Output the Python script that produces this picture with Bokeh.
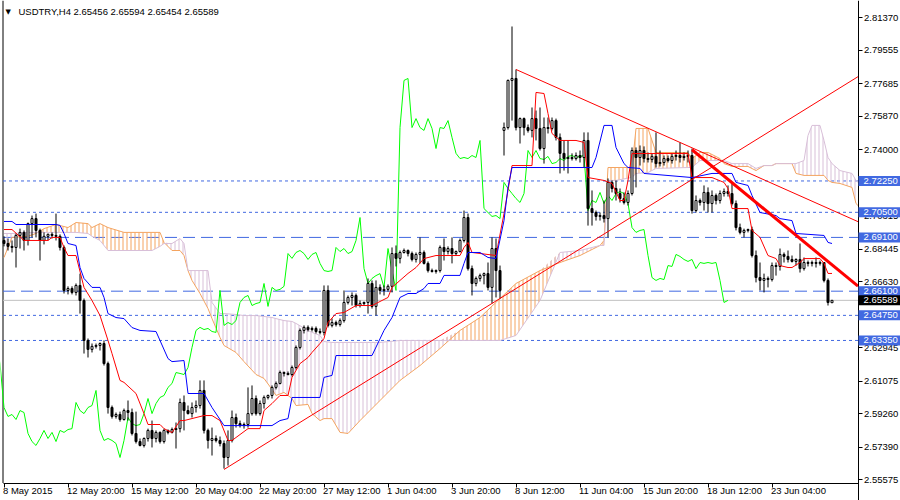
import numpy as np
from bokeh.plotting import figure
from bokeh.models import Range1d, FixedTicker, Label, PrintfTickFormatter
from bokeh.core.properties import value
from bokeh.embed import file_html
from bokeh.resources import INLINE

symbol = "USDTRY,H4"
header_values = "2.65456 2.65594 2.65454 2.65589"

O = [2.6893,2.6876,2.6860,2.6854,2.6921,2.6938,2.6893,2.6987,2.7015,2.6949,
     2.6893,2.6916,2.6927,2.6921,2.6916,2.6854,2.6614,2.6625,2.6603,2.6642,
     2.6558,2.6335,2.6285,2.6302,2.6307,2.6318,2.6206,2.5961,2.5911,2.5922,
     2.5894,2.5944,2.5933,2.5816,2.5771,2.5749,2.5788,2.5833,2.5788,2.5822,
     2.5771,2.5833,2.5822,2.5838,2.5843,2.5989,2.5944,2.5927,2.5961,2.5972,
     2.6056,2.5833,2.5777,2.5788,2.5777,2.5760,2.5682,2.5777,2.5905,2.5871,
     2.5860,2.5866,2.5927,2.6011,2.5927,2.5983,2.6017,2.6028,2.6073,2.6095,
     2.6156,2.6151,2.6145,2.6184,2.6296,2.6391,2.6408,2.6396,2.6402,2.6385,
     2.6380,2.6614,2.6419,2.6435,2.6424,2.6446,2.6547,2.6575,2.6586,2.6530,
     2.6541,2.6547,2.6653,2.6525,2.6631,2.6614,2.6620,2.6637,2.6820,2.6793,
     2.6826,2.6837,2.6820,2.6787,2.6815,2.6826,2.6765,2.6725,2.6720,2.6725,
     2.6854,2.6831,2.6848,2.6820,2.6831,2.6893,2.7021,2.6736,2.6653,2.6681,
     2.6697,2.6708,2.6631,2.6848,2.6725,2.7507,2.7523,2.7786,2.7797,2.7523,
     2.7573,2.7523,2.7507,2.7573,2.7518,2.7406,2.7523,2.7518,2.7562,2.7468,
     2.7379,2.7350,2.7356,2.7350,2.7367,2.7356,2.7451,2.7071,2.7049,2.7027,
     2.7032,2.7015,2.7217,2.7183,2.7155,2.7127,2.7105,2.7155,2.7395,2.7356,
     2.7395,2.7350,2.7345,2.7362,2.7322,2.7328,2.7350,2.7339,2.7362,2.7367,
     2.7356,2.7362,2.7367,2.7060,2.7116,2.7105,2.7161,2.7099,2.7144,2.7116,
     2.7155,2.7166,2.7155,2.7099,2.6965,2.6938,2.6949,2.6954,2.6809,2.6686,
     2.6670,2.6681,2.6675,2.6753,2.6748,2.6815,2.6804,2.6787,2.6776,2.6787,
     2.6736,2.6770,2.6765,2.6770,2.6765,2.6770,2.6670,2.65456]
H = [2.6916,2.6904,2.6893,2.6932,2.6959,2.6949,2.6993,2.7032,2.7043,2.6959,
     2.6938,2.6932,2.6938,2.7043,2.6927,2.6865,2.6637,2.6637,2.6653,2.6708,
     2.6569,2.6346,2.6318,2.6318,2.6324,2.6335,2.6217,2.5972,2.5933,2.5938,
     2.5955,2.6000,2.5955,2.5938,2.5788,2.5794,2.5843,2.5888,2.5833,2.5827,
     2.5843,2.5838,2.5849,2.5877,2.6011,2.6028,2.5972,2.5989,2.6000,2.6112,
     2.6112,2.5843,2.5849,2.5805,2.5799,2.5777,2.5833,2.5944,2.5927,2.5888,
     2.5877,2.6073,2.6084,2.6028,2.6000,2.6028,2.6033,2.6084,2.6106,2.6167,
     2.6162,2.6162,2.6195,2.6307,2.6402,2.6419,2.6419,2.6413,2.6413,2.6402,
     2.6642,2.6642,2.6458,2.6446,2.6458,2.6614,2.6586,2.6603,2.6597,2.6558,
     2.6552,2.6681,2.6670,2.6670,2.6648,2.6642,2.6648,2.6854,2.6865,2.6837,
     2.6848,2.6843,2.6831,2.6826,2.6910,2.6837,2.6776,2.6736,2.6731,2.6865,
     2.6904,2.6860,2.6910,2.6837,2.6904,2.7060,2.7043,2.6753,2.6692,2.6708,
     2.6714,2.6770,2.6910,2.6904,2.6753,2.7551,2.7791,2.8087,2.7847,2.7579,
     2.7579,2.7540,2.7635,2.7618,2.7635,2.7579,2.7579,2.7579,2.7573,2.7490,
     2.7451,2.7451,2.7379,2.7384,2.7395,2.7496,2.7496,2.7172,2.7060,2.7049,
     2.7116,2.7239,2.7228,2.7228,2.7183,2.7161,2.7172,2.7412,2.7412,2.7423,
     2.7418,2.7384,2.7379,2.7496,2.7395,2.7367,2.7367,2.7379,2.7395,2.7440,
     2.7384,2.7395,2.7406,2.7144,2.7127,2.7200,2.7189,2.7172,2.7155,2.7172,
     2.7183,2.7200,2.7217,2.7116,2.6987,2.6959,2.6959,2.6970,2.6837,2.6770,
     2.6708,2.6692,2.6770,2.6770,2.6848,2.6826,2.6837,2.6809,2.6793,2.6876,
     2.6798,2.6781,2.6781,2.6798,2.6781,2.6770,2.6681,2.65594]
L = [2.6860,2.6837,2.6826,2.6742,2.6848,2.6837,2.6865,2.6910,2.6910,2.6781,
     2.6871,2.6893,2.6904,2.6893,2.6837,2.6597,2.6592,2.6592,2.6586,2.6485,
     2.6262,2.6240,2.6268,2.6290,2.6279,2.6195,2.5927,2.5899,2.5899,2.5882,
     2.5888,2.5888,2.5805,2.5760,2.5744,2.5738,2.5771,2.5738,2.5766,2.5760,
     2.5760,2.5811,2.5816,2.5732,2.5822,2.5833,2.5922,2.5905,2.5933,2.5955,
     2.5816,2.5732,2.5693,2.5766,2.5744,2.5620,2.5637,2.5766,2.5849,2.5849,
     2.5843,2.5849,2.5916,2.5916,2.5916,2.5955,2.6006,2.6011,2.6062,2.6090,
     2.6134,2.6140,2.6134,2.6173,2.6285,2.6374,2.6385,2.6385,2.6374,2.6369,
     2.6363,2.6408,2.6408,2.6413,2.6413,2.6435,2.6536,2.6530,2.6519,2.6519,
     2.6530,2.6485,2.6513,2.6474,2.6592,2.6586,2.6608,2.6603,2.6748,2.6765,
     2.6820,2.6804,2.6776,2.6770,2.6765,2.6759,2.6714,2.6714,2.6708,2.6714,
     2.6781,2.6815,2.6765,2.6809,2.6826,2.6882,2.6725,2.6586,2.6637,2.6664,
     2.6648,2.6614,2.6541,2.6575,2.6569,2.7367,2.7512,2.7562,2.7507,2.7434,
     2.7479,2.7495,2.7468,2.7451,2.7395,2.7322,2.7490,2.7507,2.7451,2.7267,
     2.7283,2.7267,2.7339,2.7339,2.7328,2.7300,2.6976,2.6976,2.7004,2.7004,
     2.6993,2.6910,2.7161,2.7116,2.7105,2.7094,2.7088,2.7144,2.7189,2.7311,
     2.7328,2.7328,2.7328,2.7300,2.7306,2.7311,2.7328,2.7322,2.7339,2.7328,
     2.7339,2.7328,2.7043,2.7049,2.7088,2.7060,2.7049,2.7049,2.7094,2.7099,
     2.7138,2.7138,2.7088,2.6949,2.6927,2.6910,2.6938,2.6798,2.6659,2.6614,
     2.6603,2.6631,2.6664,2.6697,2.6725,2.6770,2.6770,2.6770,2.6753,2.6714,
     2.6725,2.6748,2.6748,2.6742,2.6753,2.6659,2.6530,2.65454]
C = [2.6876,2.6860,2.6854,2.6921,2.6938,2.6893,2.6987,2.7015,2.6949,2.6893,
     2.6916,2.6927,2.6921,2.6916,2.6854,2.6614,2.6625,2.6603,2.6642,2.6558,
     2.6335,2.6285,2.6302,2.6307,2.6318,2.6206,2.5961,2.5911,2.5922,2.5894,
     2.5944,2.5933,2.5816,2.5771,2.5749,2.5788,2.5833,2.5788,2.5822,2.5771,
     2.5833,2.5822,2.5838,2.5843,2.5989,2.5944,2.5927,2.5961,2.5972,2.6056,
     2.5833,2.5777,2.5788,2.5777,2.5760,2.5682,2.5777,2.5905,2.5871,2.5860,
     2.5866,2.5927,2.6011,2.5927,2.5983,2.6017,2.6028,2.6073,2.6095,2.6156,
     2.6151,2.6145,2.6184,2.6296,2.6391,2.6408,2.6396,2.6402,2.6385,2.6380,
     2.6614,2.6419,2.6435,2.6424,2.6446,2.6547,2.6575,2.6586,2.6530,2.6541,
     2.6547,2.6653,2.6525,2.6631,2.6614,2.6620,2.6637,2.6820,2.6793,2.6826,
     2.6837,2.6820,2.6787,2.6815,2.6826,2.6765,2.6725,2.6720,2.6725,2.6854,
     2.6831,2.6848,2.6820,2.6831,2.6893,2.7021,2.6736,2.6653,2.6681,2.6697,
     2.6708,2.6631,2.6848,2.6725,2.6614,2.7523,2.7786,2.7797,2.7523,2.7573,
     2.7523,2.7507,2.7573,2.7518,2.7406,2.7523,2.7518,2.7562,2.7468,2.7379,
     2.7350,2.7356,2.7350,2.7367,2.7356,2.7451,2.7071,2.7049,2.7027,2.7032,
     2.7015,2.7217,2.7183,2.7155,2.7127,2.7105,2.7155,2.7395,2.7356,2.7395,
     2.7350,2.7345,2.7362,2.7322,2.7328,2.7350,2.7339,2.7362,2.7367,2.7356,
     2.7362,2.7367,2.7060,2.7116,2.7105,2.7161,2.7099,2.7144,2.7116,2.7155,
     2.7166,2.7155,2.7099,2.6965,2.6938,2.6949,2.6954,2.6809,2.6686,2.6670,
     2.6681,2.6675,2.6753,2.6748,2.6815,2.6804,2.6787,2.6776,2.6787,2.6736,
     2.6770,2.6765,2.6770,2.6765,2.6770,2.6670,2.6547,2.65589]

tenkan_x = [0,2,5,11,12,14,15,16,18,20,22,24,26,27,29,30,33,35,36,39,40,42,44,45,50,52,54,56,57,61,
            64,65,67,69,71,72,74,76,77,79,80,81,83,85,88,92,96,97,101,103,105,108,114,115,116,117,123,125,126,127,
            132,133,135,136,137,139,143,145,146,150,152,154,155,156,157,164,171,172,177,180,181,182,186,187,189,191,193,194,196,197,
            199,200,204,205,206,207]
tenkan_y = [2.6954,2.6954,2.6893,2.6893,2.6910,2.6910,2.6854,2.6809,2.6809,2.6631,2.6558,2.6474,2.6335,2.6262,2.6112,2.6101,2.6039,2.5927,2.5866,2.5866,
            2.5843,2.5821,2.5888,2.5888,2.5916,2.5916,2.5888,2.5777,2.5777,2.5843,2.5843,2.5944,2.5983,2.6028,2.6028,2.6129,2.6206,2.6240,2.6268,2.6318,
            2.6346,2.6435,2.6485,2.6491,2.6530,2.6530,2.6575,2.6631,2.6709,2.6742,2.6792,2.6809,2.6809,2.6854,2.6882,2.6826,2.6809,2.7043,2.7172,2.7311,
            2.7311,2.7719,2.7713,2.7601,2.7490,2.7451,2.7451,2.7440,2.7244,2.7228,2.7211,2.7116,2.7116,2.7228,2.7378,2.7378,2.7378,2.7244,2.7244,2.7217,
            2.7183,2.7071,2.7071,2.6949,2.6910,2.6809,2.6792,2.6753,2.6742,2.6742,2.6770,2.6792,2.6792,2.6765,2.6709,2.6709]
kijun_x = [0,2,3,13,14,15,16,18,19,20,22,24,25,26,28,30,32,34,38,39,41,42,45,46,50,52,55,67,69,71,
           72,79,80,82,83,92,95,97,99,101,103,105,106,109,110,114,115,116,119,121,123,125,126,127,147,148,150,152,153,155,
           156,159,160,172,177,182,183,186,187,189,193,194,197,198,205,206,207]
kijun_y = [2.6999,2.6999,2.6982,2.6982,2.6977,2.6932,2.6876,2.6865,2.6742,2.6681,2.6631,2.6631,2.6575,2.6485,2.6463,2.6457,2.6407,2.6391,2.6385,2.6335,
           2.6234,2.6217,2.6223,2.6039,2.6039,2.5961,2.5860,2.5860,2.5888,2.5899,2.6017,2.6017,2.6129,2.6140,2.6251,2.6251,2.6391,2.6463,2.6575,2.6597,
           2.6597,2.6625,2.6653,2.6653,2.6698,2.6698,2.6765,2.6826,2.6826,2.6798,2.6792,2.7004,2.7189,2.7300,2.7300,2.7356,2.7535,2.7535,2.7412,2.7322,
           2.7300,2.7295,2.7267,2.7244,2.7267,2.7267,2.7217,2.7200,2.7144,2.7049,2.7032,2.7015,2.7004,2.6932,2.6921,2.6882,2.6876]
cloud_x = [0,2,6,8,10,13,16,18,21,22,24,26,30,37,39,40,42,44,45,46,47,49,51,52,54,55,58,60,63,65,
           67,68,70,72,73,76,77,79,80,82,84,86,89,94,99,104,109,114,119,124,128,134,139,144,149,150,151,153,157,158,
           161,163,171,172,174,176,179,180,182,186,188,190,192,193,197,198,200,201,202,204,205,206,207,209,212,213,213.5]
span_a = [2.6798,2.6910,2.6916,2.6932,2.6959,2.6982,2.6965,2.6993,2.6987,2.6965,2.6987,2.6965,2.6938,2.6938,2.6938,2.6882,2.6837,2.6837,2.6809,2.6725,
          2.6670,2.6597,2.6513,2.6457,2.6352,2.6307,2.6268,2.6217,2.6145,2.6123,2.6062,2.6028,2.6045,2.6011,2.5972,2.5978,2.5927,2.5888,2.5899,2.5899,
          2.5822,2.5816,2.5888,2.6000,2.6112,2.6195,2.6290,2.6391,2.6463,2.6569,2.6653,2.6725,2.6770,2.6809,2.6865,2.6893,2.7300,2.7300,2.7300,2.7518,
          2.7518,2.7384,2.7384,2.7350,2.7384,2.7384,2.7350,2.7322,2.7306,2.7306,2.7283,2.7311,2.7311,2.7322,2.7322,2.7267,2.7256,2.7256,2.7256,2.7256,
          2.7256,2.7228,2.7217,2.7211,2.7189,2.7099,2.7088]
span_b = [2.6932,2.6932,2.6938,2.6938,2.6938,2.6938,2.6938,2.6938,2.6932,2.6916,2.6893,2.6837,2.6837,2.6837,2.6860,2.6876,2.6876,2.6904,2.6876,2.6725,
          2.6725,2.6725,2.6725,2.6547,2.6485,2.6485,2.6480,2.6474,2.6474,2.6469,2.6463,2.6457,2.6446,2.6441,2.6430,2.6391,2.6380,2.6363,2.6329,2.6324,
          2.6324,2.6324,2.6324,2.6324,2.6335,2.6335,2.6335,2.6335,2.6335,2.6335,2.6363,2.6558,2.6826,2.6837,2.6865,2.6865,2.7228,2.7228,2.7245,2.7267,
          2.7272,2.7295,2.7300,2.7300,2.7339,2.7339,2.7339,2.7339,2.7322,2.7322,2.7295,2.7311,2.7311,2.7322,2.7322,2.7322,2.7339,2.7479,2.7535,2.7535,
          2.7451,2.7356,2.7322,2.7283,2.7267,2.7228,2.7217]
chikou_shift = 26

trend_up_x = [55, 213.5];    trend_up_y = [2.5615, 2.7807]
trend_dn_x = [128, 213.5];   trend_dn_y = [2.7847, 2.6998]
trend_bold_x = [172, 213.5]; trend_bold_y = [2.7399, 2.6638]

levels_dot = [2.72250, 2.70500, 2.64750, 2.63350]
levels_dash = [2.69100, 2.66100]
last_price = 2.65589

date_ticks = [0, 16, 32, 48, 64, 80, 96, 112, 128, 144, 160, 176, 192]
date_labels = ["8 May 2015", "12 May 20:00", "15 May 12:00", "20 May 04:00", "22 May 20:00",
               "27 May 12:00", "1 Jun 04:00", "3 Jun 20:00", "8 Jun 12:00", "11 Jun 04:00",
               "15 Jun 20:00", "18 Jun 12:00", "23 Jun 04:00"]
price_ticks = [2.55575, 2.57390, 2.59260, 2.61075, 2.62945, 2.66630, 2.68445,
               2.70315, 2.74000, 2.75870, 2.77685, 2.79555, 2.81370]

# view geometry: 4 px per bar, 0.000558 per px
PX_X = 0.25          # bars per pixel
PX_Y = 0.000558      # price per pixel
X0, X1 = -0.875, -0.875 + 900 * PX_X
Y1 = 2.8232
Y0 = Y1 - 500 * PX_Y
X_AXIS_AT = Y1 - 482.5 * PX_Y     # price level of the time axis line
Y_AXIS_AT = X0 + 857.5 * PX_X     # bar position of the price axis line
X_LEFT_EDGE = X0 + 2.5 * PX_X

FONT = "Liberation Sans"
FS = "9.5px"
BLUE = "#4169E1"

p = figure(width=900, height=500, output_backend="svg", toolbar_location=None,
           x_range=Range1d(X0, X1), y_range=Range1d(Y0, Y1),
           y_axis_location="right", min_border=0, background_fill_color="white")
p.grid.visible = False
p.outline_line_color = None

for ax in (p.xaxis[0], p.yaxis[0]):
    ax.axis_line_color = "black"
    ax.major_tick_line_color = "black"
    ax.major_tick_in = 0
    ax.major_tick_out = 4
    ax.minor_tick_line_color = None
    ax.major_label_standoff = 2
    ax.major_label_text_font = FONT
    ax.major_label_text_font_size = FS
    ax.major_label_text_color = "black"

xa = p.xaxis[0]
xa.fixed_location = X_AXIS_AT
xa.bounds = (X_LEFT_EDGE, Y_AXIS_AT)
xa.ticker = FixedTicker(ticks=date_ticks)
xa.major_label_text_color = None
ya = p.yaxis[0]
ya.fixed_location = Y_AXIS_AT
ya.bounds = (Y0, Y1)
ya.ticker = FixedTicker(ticks=price_ticks)
ya.formatter = PrintfTickFormatter(format="%.5f")

# left border
p.segment(x0=[X_LEFT_EDGE], y0=[X_AXIS_AT], x1=[X_LEFT_EDGE], y1=[Y1], line_color="black", line_width=1)

# horizontal levels
n = len(levels_dot)
p.segment(x0=[X_LEFT_EDGE] * n, y0=levels_dot, x1=[Y_AXIS_AT] * n, y1=levels_dot,
          line_color=BLUE, line_dash="3 3", line_width=1)
n = len(levels_dash)
p.segment(x0=[X_LEFT_EDGE] * n, y0=levels_dash, x1=[Y_AXIS_AT] * n, y1=levels_dash,
          line_color=BLUE, line_dash="12 6", line_width=1)
p.segment(x0=[X_LEFT_EDGE], y0=[last_price], x1=[Y_AXIS_AT], y1=[last_price], line_color="#C0C0C0", line_width=1)

# cloud
cx = np.array(cloud_x, dtype=float)
A = np.array(span_a); B = np.array(span_b)
top = np.maximum(A, B)
p.varea(x=cx, y1=B, y2=top, fill_alpha=0, hatch_pattern="|", hatch_color="#F4A460", hatch_scale=4, hatch_weight=1)
p.varea(x=cx, y1=A, y2=top, fill_alpha=0, hatch_pattern="|", hatch_color="#D8BFD8", hatch_scale=4, hatch_weight=1)
p.line(cx, A, line_color="#F4A460", line_width=1)
p.line(cx, B, line_color="#D8BFD8", line_width=1)

# candles
idx = np.arange(len(C))
Oa, Ha, La, Ca = map(np.array, (O, H, L, C))
p.line(idx - chikou_shift, Ca, line_color="#00FF00", line_width=1)
p.segment(x0=idx, y0=La, x1=idx, y1=Ha, line_color="black", line_width=1)
up = Ca >= Oa
dn = ~up
p.vbar(x=idx[up], bottom=Oa[up], top=Ca[up], width=0.5, fill_color="white", line_color="black", line_width=1)
p.vbar(x=idx[dn], bottom=Ca[dn], top=Oa[dn], width=0.5, fill_color="black", line_color="black", line_width=1)

p.line(tenkan_x, tenkan_y, line_color="#FF0000", line_width=1)
p.line(kijun_x, kijun_y, line_color="#0000FF", line_width=1)

p.line(trend_up_x, trend_up_y, line_color="#FF0000", line_width=1)
p.line(trend_dn_x, trend_dn_y, line_color="#FF0000", line_width=1)
p.line(trend_bold_x, trend_bold_y, line_color="#FF0000", line_width=3)

# price boxes on the scale (level markers), drawn above the scale labels
box_levels = levels_dot + levels_dash + [last_price]
box_colors = [BLUE] * (len(levels_dot) + len(levels_dash)) + ["black"]
box_left = X0 + 858 * PX_X
box_right = X1
half_h = 5 * PX_Y
p.quad(left=[box_left] * len(box_levels), right=[box_right] * len(box_levels),
       bottom=[v - half_h for v in box_levels], top=[v + half_h for v in box_levels],
       fill_color=box_colors, line_color=None, level="overlay")
p.text(x=[X0 + 863 * PX_X] * len(box_levels), y=box_levels, text=["%.5f" % v for v in box_levels],
       text_font=value(FONT), text_font_size=value(FS), text_color="white",
       text_align="left", text_baseline="middle", level="overlay")

# time labels, left-aligned at their ticks as in MetaTrader
for t, s in zip(date_ticks, date_labels):
    p.add_layout(Label(x=t, y=10, x_units="data", y_units="screen", text=s, text_font=FONT,
                       text_font_size=FS, text_color="black", text_align="left", text_baseline="middle",
                       x_offset=-1))

# header
p.add_layout(Label(x=5, y=489, x_units="screen", y_units="screen", text="\u25BC", text_font="DejaVu Sans",
                   text_font_size="7px", text_color="black", text_baseline="middle"))
p.add_layout(Label(x=18, y=489, x_units="screen", y_units="screen",
                   text=symbol + "  " + header_values, text_font=FONT,
                   text_font_size=FS, text_color="black", text_baseline="middle"))

open("out.html", "w").write(file_html(p, INLINE))
